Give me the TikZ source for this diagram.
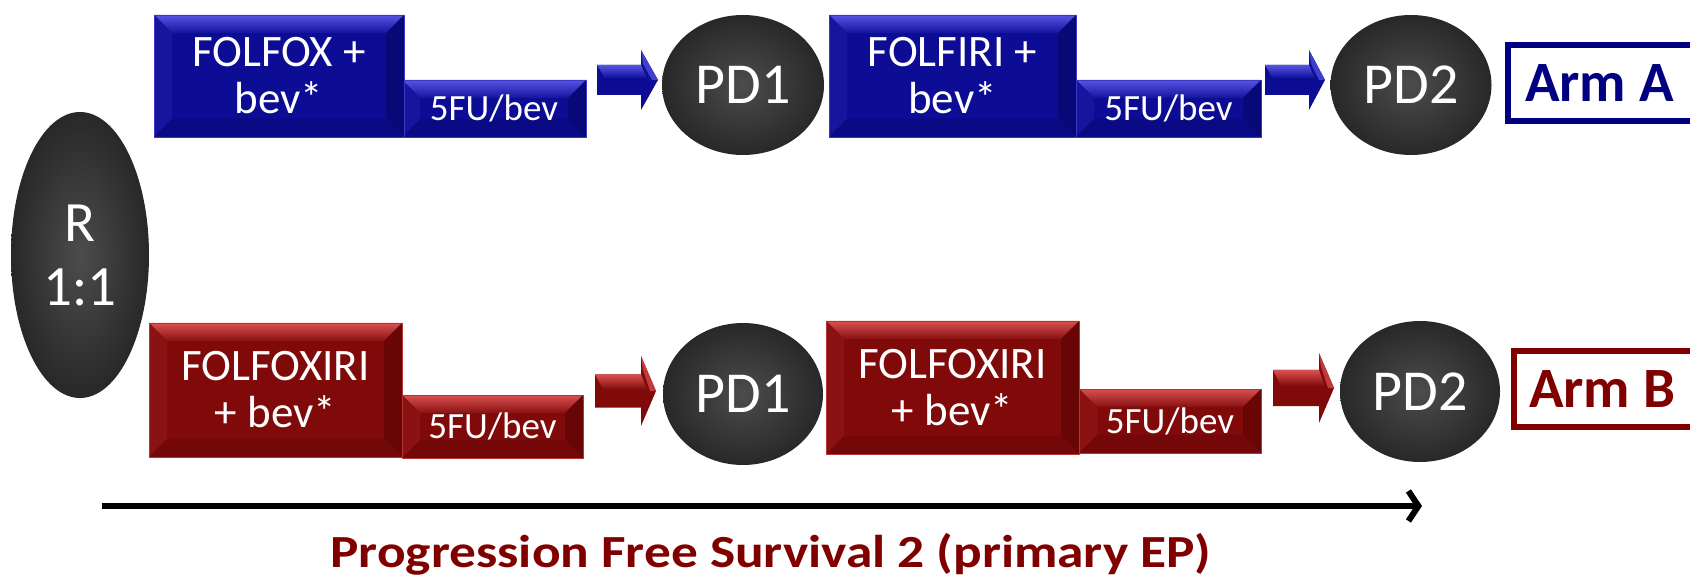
\documentclass[tikz,border=0pt]{standalone}
\usepackage{fontspec}
\setmainfont{Carlito}
\newfontfamily\widefont[FakeStretch=1.16]{Carlito}
\usetikzlibrary{shapes.geometric,calc,arrows.meta}
\definecolor{bmain}{RGB}{12,12,148}
\definecolor{blight}{RGB}{85,85,228}
\definecolor{bdark}{RGB}{8,8,118}
\definecolor{rmain}{RGB}{128,10,10}
\definecolor{rlight}{RGB}{218,80,80}
\definecolor{rdark}{RGB}{104,6,6}
\definecolor{navytxt}{RGB}{0,0,128}
\definecolor{marontxt}{RGB}{128,0,0}
\definecolor{discin}{RGB}{76,76,76}
\definecolor{discout}{RGB}{40,40,40}

\newcommand\bevsz{18}
\tikzset{
  bevbox/.style n args={3}{rectangle, inner sep=0pt, fill=#1, text=white, align=center,
    draw=#2!60!#1, line width=0.8pt,
    path picture={
      \coordinate (NW) at (path picture bounding box.north west);
      \coordinate (NE) at (path picture bounding box.north east);
      \coordinate (SW) at (path picture bounding box.south west);
      \coordinate (SE) at (path picture bounding box.south east);
      \shade[top color=#2, bottom color=#1!90!#2] (NW) -- (NE) -- ($(NE)+(-\bevsz,\bevsz)$) -- ($(NW)+(\bevsz,\bevsz)$) -- cycle;
      \fill[#1!88!#2] (NW) -- ($(NW)+(\bevsz,\bevsz)$) -- ($(SW)+(\bevsz,-\bevsz)$) -- (SW) -- cycle;
      \fill[#3] (NE) -- ($(NE)+(-\bevsz,\bevsz)$) -- ($(SE)+(-\bevsz,-\bevsz)$) -- (SE) -- cycle;
      \fill[#3!50!#1] (SW) -- (SE) -- ($(SE)+(-\bevsz,-\bevsz)$) -- ($(SW)+(\bevsz,-\bevsz)$) -- cycle;
    }},
  bluebox/.style={bevbox={bmain}{blight}{bdark}},
  redbox/.style={bevbox={rmain}{rlight}{rdark}},
  bigtxt/.style={font=\fontsize{45}{47}\selectfont},
  smalltxt/.style={font=\fontsize{37}{38}\selectfont},
  disc/.style={ellipse, inner sep=0pt, text=white, inner color=discin, outer color=discout,
    font=\fontsize{58}{64}\selectfont, align=center},
  armbox/.style={rectangle, draw=#1, line width=6pt, inner sep=0pt},
  armtxt/.style={text=#1, inner sep=0pt, font=\fontsize{57}{60}\selectfont\bfseries},
}
% x1 x2 xhead yc shafthalf headhalf main light
\newcommand\blkarrow[8]{%
  \fill[#7] (#1,{#4-#5}) -- (#3,{#4-#5}) -- (#3,{#4-#6}) -- (#2,#4) -- (#3,{#4+#6}) -- (#3,{#4+#5}) -- (#1,{#4+#5}) -- cycle;
  \shade[top color=#8, bottom color=#7] (#1,{#4-#5}) -- (#3,{#4-#5}) -- ({#3+6},{#4-0.1*#5}) -- ({#1+8},{#4-0.1*#5}) -- cycle;
  \fill[#8!70!#7] (#3,{#4-#6}) -- (#2,#4) -- ({#2-6},#4) -- ({#3+2},{#4-#6+14}) -- cycle;
}

\begin{document}
\begin{tikzpicture}[x=1pt,y=-1pt]
\useasboundingbox (0,0) rectangle (1690,577);

% randomisation
\node[disc, minimum width=138pt, minimum height=286pt, font=\fontsize{57}{64}\selectfont] (r) at (80,255) {R\\1:1};

% Arm A row
\node[bluebox, smalltxt, minimum width=184pt, minimum height=57pt] (fu1) at (494,108.5) {5FU/bev};
\node[bluebox, bigtxt, minimum width=250pt, minimum height=122pt] (fox) at (279,76) {FOLFOX +\\bev*};
\node[disc, minimum width=162pt, minimum height=140pt] (pd1a) at (743,85) {PD1};
\node[bluebox, smalltxt, minimum width=185pt, minimum height=57pt] (fu2) at (1168.5,108.5) {5FU/bev};
\node[bluebox, bigtxt, minimum width=247pt, minimum height=122pt] (fir) at (952.5,76) {FOLFIRI +\\bev*};
\node[disc, minimum width=161pt, minimum height=140pt] (pd2a) at (1411,85) {PD2};
\node[armbox=navytxt, minimum width=194pt, minimum height=76pt] (arma) at (1605,83) {};
\node[armtxt=navytxt, anchor=west] (armat) at ([xshift=20pt]arma.west) {Arm A};

\blkarrow{597}{658}{641}{80}{15}{30}{bmain}{blight}
\blkarrow{1265}{1325}{1309}{80}{15}{30}{bmain}{blight}

% Arm B row
\node[redbox, smalltxt, minimum width=181pt, minimum height=63pt] (fu3) at (492.5,426.5) {5FU/bev};
\node[redbox, bigtxt, minimum width=253pt, minimum height=134pt] (xiri1) at (275.5,390) {FOLFOXIRI\\+ bev*};
\node[disc, minimum width=160pt, minimum height=142pt] (pd1b) at (743,394) {PD1};
\node[redbox, smalltxt, minimum width=182pt, minimum height=64pt] (fu4) at (1170,421) {5FU/bev};
\node[redbox, bigtxt, minimum width=253pt, minimum height=133pt] (xiri2) at (952.5,387.5) {FOLFOXIRI\\+ bev*};
\node[disc, minimum width=160pt, minimum height=141pt] (pd2b) at (1420,391.5) {PD2};
\node[armbox=marontxt, minimum width=186pt, minimum height=76pt] (armb) at (1607,389) {};
\node[armtxt=marontxt, anchor=west] (armbt) at ([xshift=18pt]armb.west) {Arm B};

\blkarrow{595}{656}{641}{391}{16.5}{35}{rmain}{rlight}
\blkarrow{1273}{1334}{1319}{388}{18}{35}{rmain}{rlight}

% time axis
\coordinate (axs) at (102,506);
\coordinate (axe) at (1422,506);
\draw[line width=6pt, -{Straight Barb[length=10pt,width=30pt]}] (axs) -- (axe);
\node[anchor=base, text=marontxt, inner sep=0pt, font=\widefont\fontsize{46}{50}\selectfont\bfseries] (pfs) at (771,567) {Progression Free Survival 2 (primary EP)};
\end{tikzpicture}
\end{document}
